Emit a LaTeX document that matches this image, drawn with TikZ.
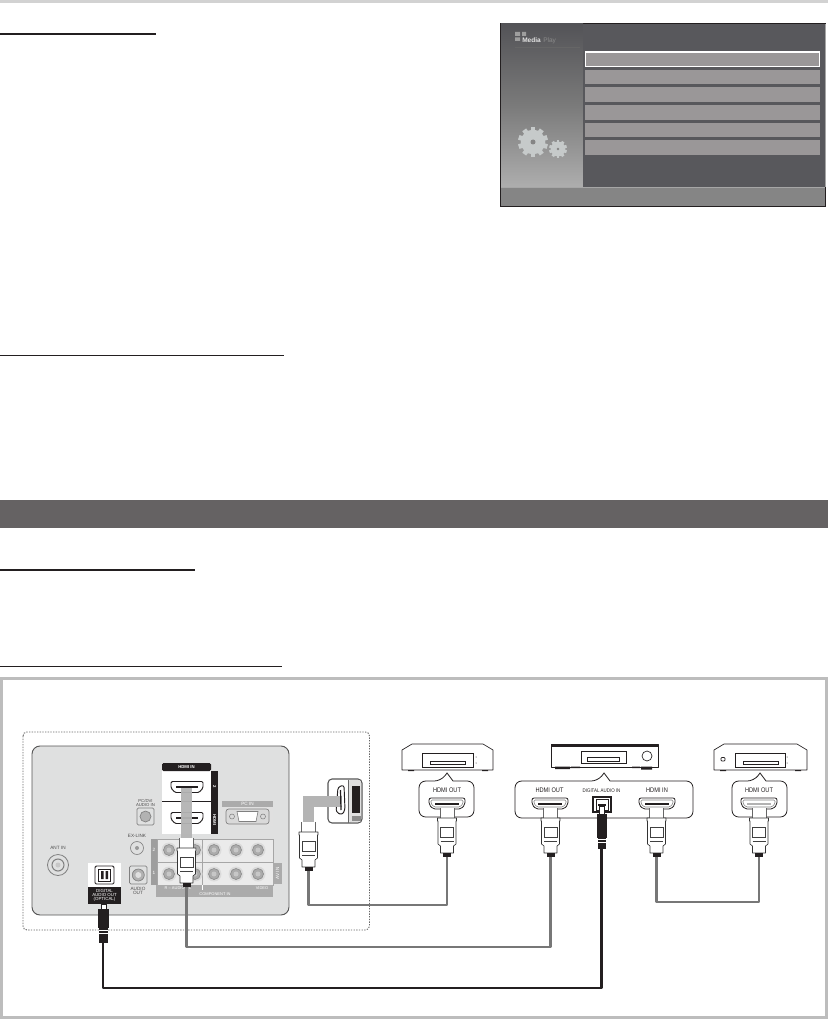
\documentclass[tikz,border=0pt]{standalone}
\usepackage{fontspec}
\setmainfont{Liberation Sans}
\newfontfamily\condf[FakeStretch=0.85]{Liberation Sans}
\definecolor{frame}{HTML}{BDBDBD}
\definecolor{topbar}{HTML}{D2D2D2}
\definecolor{band}{HTML}{656263}
\definecolor{scrdark}{HTML}{58585C}
\definecolor{rowc}{HTML}{9A9798}
\definecolor{tvfill}{HTML}{DFE0E0}
\definecolor{tvedge}{HTML}{555555}
\definecolor{tab}{HTML}{ABABAB}
\definecolor{strip}{HTML}{B4B4B4}
\definecolor{cable}{HTML}{777777}
\definecolor{ink}{HTML}{231F20}
\definecolor{gearc}{HTML}{C6CACA}
\newcommand{\tinyf}[1]{\fontsize{#1}{#1}\selectfont}
\tikzset{
  x=0.75pt,y=-0.75pt,
  lab/.style={inner sep=0pt,font=\condf\tinyf{5},text=ink,align=center},
  tvlab/.style={inner sep=0pt,font=\tinyf{3.5},text=#1,align=center},
  tvlab/.default={black!70},
  ink line/.style={draw=ink,line width=0.6pt},
  hairline/.style={draw=ink,line width=0.5pt},
  scrrow/.style={fill=rowc,draw=none},
  cablegray/.style={draw=cable,line width=2pt,line join=round},
  cableblack/.style={draw=ink,line width=2pt,line join=round},
  dev/.style={draw=ink,line width=0.5pt,fill=white,line join=round},
  callout/.style={draw=ink,line width=0.6pt,fill=white},
  hdmiplug/.pic={
    \fill[white] (-7,0) rectangle (7,10);
    \draw[draw=black!60,line width=0.4pt] (-7,10) -- (-7,0) (7,0) -- (7,10);
    \draw[draw=black!80,line width=0.45pt,fill=white,line join=round]
      (-9.5,10) -- (9.5,10) -- (9.5,13) -- (9,13) -- (9,36) -- (6.5,38) -- (6.5,45) -- (-6.5,45) -- (-6.5,38) -- (-9,36) -- (-9,13) -- (-9.5,13) -- cycle;
    \draw[draw=black!75,line width=0.35pt] (-6.5,19) rectangle (6.5,29);
    \draw[draw=black!75,line width=0.6pt] (-6.5,33) -- (6.5,33);
    \fill[ink] (-4,45) rectangle (4,49);
    \coordinate (-tip) at (0,49);
  },
  hdmiport/.pic={
    \draw[draw=ink,line width=0.6pt,fill=white,rounded corners=1.5pt]
      (-18,-5.5) -- (18,-5.5) -- (18,1) -- (14,5.5) -- (-14,5.5) -- (-18,1) -- cycle;
    \draw[draw=black!50,line width=0.4pt,fill=white,rounded corners=1pt]
      (-16,-3.5) -- (16,-3.5) -- (16,0) -- (13,3.5) -- (-13,3.5) -- (-16,0) -- cycle;
    \fill[ink] (-12,-1) rectangle (12,1);
  },
  hdmiportg/.pic={
    \draw[draw=ink,line width=0.6pt,fill=white,rounded corners=1.5pt]
      (-18,-5.5) -- (18,-5.5) -- (18,1) -- (14,5.5) -- (-14,5.5) -- (-18,1) -- cycle;
    \draw[draw=black!50,line width=0.4pt,fill=white,rounded corners=1pt]
      (-16,-3.5) -- (16,-3.5) -- (16,0) -- (13,3.5) -- (-13,3.5) -- (-16,0) -- cycle;
    \fill[black!30] (-12,-1) rectangle (12,1);
  },
  tvport/.pic={
    \draw[draw=ink,line width=0.7pt,fill=white,rounded corners=1pt]
      (-16,-5.5) -- (16,-5.5) -- (16,1) -- (12,5.5) -- (-12,5.5) -- (-16,1) -- cycle;
    \fill[ink] (-11,-0.7) rectangle (11,0.7);
  },
  jackpic/.pic={
    \fill[black!14] (0,0) circle (7.5);
    \draw[draw=black!45,line width=0.5pt,fill=black!33] (0,0) circle (5.5);
    \fill[black!22] (0,0) circle (2.5);
  },
  gear/.pic={
    \fill[gearc] (0,0) circle (0.82);
    \foreach \a in {0,36,...,324}{
      \fill[gearc,rotate=\a] (-0.16,-1) rectangle (0.16,-0.7);
    }
  },
}
\begin{document}
\begin{tikzpicture}
\useasboundingbox (0,0) rectangle (828,1019);
\fill[white] (0,0) rectangle (828,1019);

% page rules
\fill[topbar] (0,0) rectangle (828,3);
\fill[ink] (0,33) rectangle (156,35.5);
\fill[ink] (0,354.5) rectangle (284,355.8);
\fill[band] (0,500) rectangle (828,528);
\fill[ink] (0,569) rectangle (195,571);
\fill[ink] (0,666) rectangle (282,667.2);

% TV menu screen
\fill[ink] (500,23) rectangle (826,207);
\shade[top color=scrdark!95!black,bottom color=black!32,middle color=black!52] (501,24) rectangle (583,187);
\fill[scrdark] (583,24) rectangle (825,187);
\fill[black!48] (501,188) rectangle (825,206);
\draw[draw=black!35,line width=0.4pt] (501,187.5) -- (825,187.5) (825,187) -- (825,24);
\draw[draw=black!60,line width=0.3pt] (515,47) -- (580,47);
\fill[black!38] (515,32) rectangle (520,36) (522,32) rectangle (526,36) (515,37.5) rectangle (520,41);
\node[inner sep=0pt,font=\tinyf{4.9},text=black!10,anchor=west] (medialabel) at (522,40.5) {\textbf{Media}};
\node[inner sep=0pt,font=\tinyf{4.9},text=black!45,anchor=west] (playlabel) at (543,40.5) {Play};
\path (533,142) pic[scale=15] {gear};
\path (558,149) pic[scale=9] {gear};
\fill[black!48] (533,142) circle (2.5) (558,149) circle (1.3);
\draw[scrrow,draw=white,line width=0.8pt] (585.5,52) rectangle (819.5,66.5);
\fill[rowc] (585,70) rectangle (820,84);
\fill[rowc] (585,87) rectangle (820,102);
\fill[rowc] (585,105) rectangle (820,120);
\fill[rowc] (585,123) rectangle (820,137);
\fill[rowc] (585,140) rectangle (820,155);

% outer frame
\draw[draw=frame,line width=2.4pt] (1.5,678.5) rectangle (826.5,1017.5);

% dotted box and TV panel
\draw[draw=black!60,line width=0.7pt,dash pattern=on 1pt off 1pt,rounded corners=3pt] (23,732) rectangle (369.5,930);
\draw[draw=tvedge,line width=0.7pt,fill=tvfill,rounded corners=6pt] (32,746) rectangle (289,915);

% TV ANT IN
\node[tvlab] (antlabel) at (58,848) {ANT IN};
\draw[draw=black!50,line width=0.6pt,fill=tvfill] (58,865) circle (10.5);
\draw[draw=black!50,line width=0.8pt,fill=tvfill] (58,865) circle (6);
\fill[black!22] (58,865) circle (2.5);

% PC/DVI AUDIO IN
\fill[black!12] (134,798) rectangle (157,827);
\node[tvlab,font=\tinyf{3.2}] (dvilabel) at (145.5,803) {PC/DVI\\[-0.3pt]AUDIO IN};
\draw[draw=black!50,line width=0.5pt,fill=tvfill,rounded corners=1pt] (137,808) rectangle (154,825);
\draw[draw=black!50,line width=0.5pt,fill=black!30] (145.5,816.5) circle (5.5);

% EX-LINK
\node[tvlab] (exlabel) at (137,836) {EX-LINK};
\draw[draw=black!50,line width=0.5pt,fill=tvfill] (137,848) circle (6.5);
\fill[black!40] (137,848) circle (2);

% AUDIO OUT
\fill[black!12] (127,864) rectangle (149,897);
\draw[draw=black!50,line width=0.5pt,fill=tvfill,rounded corners=1pt] (129.5,866) rectangle (147,884);
\draw[draw=black!50,line width=0.5pt,fill=black!30] (138.3,875) circle (6);
\fill[black!12] (138.3,875) circle (3);
\node[tvlab] (aoutlabel) at (138,891) {AUDIO\\[-0.3pt]OUT};

% analog jack block
\fill[black!8] (151,839) rectangle (273,885);
\draw[draw=black!35,line width=0.4pt] (157,839) rectangle (273,885) (157,862) -- (273,862) (202,839) -- (202,885);
\fill[black!38] (151,839) rectangle (157,885);
\node[tvlab=white] (rowtwo) at (154,850) {2};
\node[tvlab=white] (rowone) at (154,873) {1};
\foreach \jx in {169,195,214,236,258}{
  \path (\jx,850) pic {jackpic};
  \path (\jx,874) pic {jackpic};
}
\fill[tab] (156,885) rectangle (273,897);
\draw[draw=white,line width=0.3pt] (202.5,885) -- (202.5,890);
\node[tvlab=white,font=\tinyf{3}] (audiolabel) at (178,888.2) {R -- AUDIO -- L};
\node[tvlab=white,font=\tinyf{3}] (complabel) at (215,894) {COMPONENT IN};
\node[tvlab=white,font=\tinyf{3}] (videolabel) at (262,888.2) {VIDEO};
\fill[tab] (273,863) rectangle (282,884);
\node[tvlab=white,rotate=90] (avlabel) at (277.5,873.5) {AV IN};

% PC IN
\fill[black!12] (222,801) rectangle (273,826);
\fill[tab] (222,801) rectangle (273,806.5);
\node[tvlab=white] (pclabel) at (247.5,803.7) {PC IN};
\draw[draw=black!50,line width=0.5pt,fill=white!85!black,rounded corners=2pt] (226,809) rectangle (269,824);
\draw[draw=black!50,line width=0.5pt,fill=white] (237,811.5) -- (258,811.5) -- (256,821.5) -- (239,821.5) -- cycle;
\draw[draw=black!50,line width=0.4pt] (232,816.5) circle (2.5) (263,816.5) circle (2.5);

% HDMI IN block
\fill[white] (162,763) rectangle (211,834);
\fill[ink,rounded corners=1pt] (162,763) rectangle (211,771);
\fill[ink] (211,771) rectangle (218,834);
\node[inner sep=0pt,font=\tinyf{3.2}\bfseries,text=white] (hdmiinlabel) at (186.5,767.3) {HDMI IN};
\node[inner sep=0pt,font=\tinyf{3.2}\bfseries,text=white,rotate=-90] (two) at (214.5,787) {2};
\node[inner sep=0pt,font=\tinyf{3.2}\bfseries,text=white,rotate=-90] (hdmivert) at (214.5,820) {HDMI};
\draw[draw=ink,line width=0.5pt] (162,801) -- (211,801);
\path (187,787) pic {tvport};
\path (187,818) pic {tvport};
\fill[strip,opacity=0.95] (180.5,788) rectangle (192,838);
\path (186.5,838) pic (plugtv) {hdmiplug};

% side HDMI connector
\draw[draw=tvedge,line width=0.8pt,fill=white,rounded corners=3pt] (328,779) rectangle (362,823);
\fill[black!12,rounded corners=2pt] (348,780) rectangle (361,822);
\draw[draw=black!60,line width=0.4pt] (348,779.5) -- (348,822.5);
\fill[ink] (352,786) rectangle (360,813);
\fill[black!45] (352,816) rectangle (361,821);
\draw[draw=ink,line width=0.7pt,fill=white,rounded corners=2pt] (338,787) -- (344,785) -- (345,810) -- (342,815) -- (336,812) -- cycle;
\fill[strip] (303,796) rectangle (342,807);
\fill[strip] (303,796) rectangle (314,823);
\draw[draw=ink,line width=0.9pt] (340.5,790) -- (341,810);
\path (308.5,822) pic (plugside) {hdmiplug};

% digital audio out
\fill[white] (88,863) rectangle (121,887);
\fill[ink] (88,887) rectangle (121,904);
\draw[draw=ink,line width=0.7pt,fill=white,rounded corners=1pt] (95,866) rectangle (114,884);
\draw[draw=ink,line width=0.5pt] (98.5,869) rectangle (110.5,881);
\fill[ink] (101,871) rectangle (103.5,879) (105.5,871) rectangle (108,879);
\node[inner sep=0pt,font=\tinyf{3.3},text=white,align=center] (optlabel) at (104.5,895.5) {DIGITAL\\[-0.4pt]AUDIO OUT\\[-0.4pt](OPTICAL)};
% optical plug on TV
\fill[white] (101,904) rectangle (106,909);
\draw[draw=ink,line width=0.5pt] (101,904) rectangle (106,909);
\fill[ink] (98,909) rectangle (109,928);
\fill[ink] (99,928) rectangle (108,943);
\draw[draw=white,line width=0.3pt] (99,930) -- (108,930) (99,933) -- (108,933);
\coordinate (optTVtip) at (103,943);

% Device 1
\draw[dev] (402,750) -- (412,744) -- (483,744) -- (493,750) -- (493,770) -- (402,770) -- cycle;
\draw[hairline] (422,753) rectangle (473,767);
\draw[hairline] (430,761) rectangle (465,764.5);
\fill[ink] (408,770) rectangle (414,771.2) (482,770) rectangle (488,771.2);
\fill[ink] (476,757) circle (0.5) (476,763) circle (0.5);
% Device 3
\draw[dev] (714,750) -- (724,744) -- (797,744) -- (807,750) -- (807,770) -- (714,770) -- cycle;
\draw[hairline] (735,753) rectangle (785,767);
\draw[hairline] (743,761) rectangle (778,764.5);
\draw[hairline,rounded corners=0.7pt] (721,757.5) rectangle (725,761);
\fill[ink] (720,770) rectangle (726,771.2) (795,770) rectangle (801,771.2);
\fill[ink] (787,757) circle (0.5) (787,763) circle (0.5);
% Device 2
\draw[dev] (551,744.5) rectangle (658,767);
\fill[ink] (551,744) rectangle (658,746.5);
\draw[hairline] (581,751) rectangle (626,763);
\draw[hairline] (587,757) rectangle (619,761);
\draw[hairline] (647,756) circle (5);
\fill[ink] (555,766.5) rectangle (570,769) (571,766.5) rectangle (580,768);
\fill[ink] (632,766.5) rectangle (640,768) (641,766.5) rectangle (652,769.5);

% callouts
\draw[callout,rounded corners=5pt] (419,799) -- (419,781) -- (441,781) [sharp corners] -- (447,773) -- (453,781) [rounded corners=5pt] -- (474,781) -- (474,817) -- (419,817) -- cycle;
\draw[callout,rounded corners=5pt] (515,799) -- (515,781) -- (598,781) [sharp corners] -- (604,773) -- (610,781) [rounded corners=5pt] -- (693,781) -- (693,818) -- (515,818) -- cycle;
\draw[callout,rounded corners=5pt] (732,799) -- (732,781) -- (754,781) [sharp corners] -- (760,773) -- (766,781) [rounded corners=5pt] -- (787,781) -- (787,817) -- (732,817) -- cycle;

\node[lab] (outA) at (447,790.5) {HDMI OUT};
\node[lab] (outB) at (549.5,790.5) {HDMI OUT};
\node[lab,font=\condf\tinyf{3.9}] (digB) at (601.5,790.5) {DIGITAL AUDIO IN};
\node[lab] (inB) at (657,790.5) {HDMI IN};
\node[lab] (outC) at (759,790.5) {HDMI OUT};

\path (447,803.5) pic {hdmiport};
\path (550,803.5) pic {hdmiport};
\path (657,803.5) pic {hdmiport};
\path (759,803.5) pic {hdmiportg};

\path (447,808) pic (plugA) {hdmiplug};
\path (550.5,808) pic (plugB) {hdmiplug};
\path (656.5,808) pic (plugC) {hdmiplug};
\path (759,808) pic (plugD) {hdmiplug};

% optical port and plug on receiver
\draw[draw=ink,line width=0.8pt,fill=white] (593,797) rectangle (611,812);
\draw[draw=ink,line width=0.5pt,fill=white] (596,799.5) rectangle (608,810);
\fill[ink] (598,804) rectangle (606,806);
\draw[draw=ink,line width=0.5pt,fill=white] (599.5,806) rectangle (604.5,814);
\fill[ink] (597,814) rectangle (607,838);
\fill[ink] (598,838) rectangle (606,849);
\draw[draw=white,line width=0.3pt] (598,839) -- (606,839) (598,842) -- (606,842);
\coordinate (optBtip) at (601.5,849);

% cables
\draw[cablegray] (plugside-tip) -- ++(0,34) -| (plugA-tip);
\draw[cablegray] (plugtv-tip) -- ++(0,60) -| (plugB-tip);
\draw[cablegray] (plugC-tip) -- ++(0,45) -| (plugD-tip);
\draw[cableblack] (optTVtip) -- ++(0,45) -| (optBtip);
\end{tikzpicture}
\end{document}
